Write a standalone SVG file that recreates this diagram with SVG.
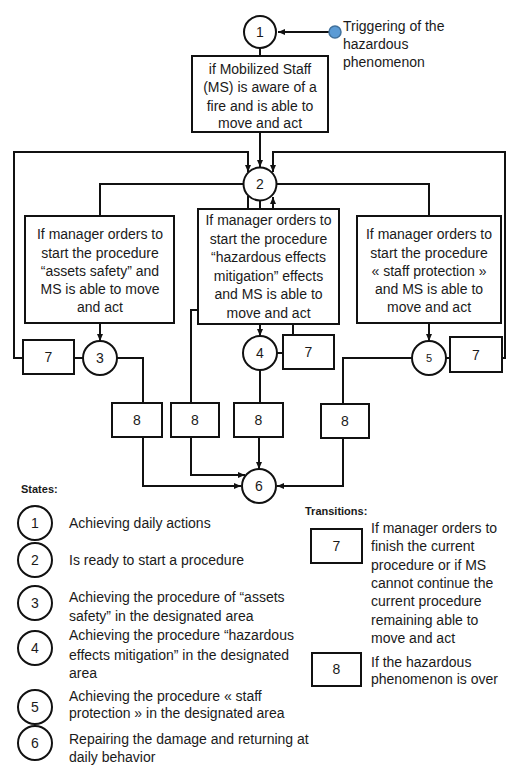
<svg xmlns="http://www.w3.org/2000/svg" width="508" height="765" viewBox="0 0 508 765">
<style>
text{font-family:"Liberation Sans",Arial,sans-serif;font-size:14px;fill:#1a1a1a}
.c{text-anchor:middle}
.b{font-weight:bold;font-size:11px}
.s{fill:#fff;stroke:#111;stroke-width:2}
.w{fill:none;stroke:#111;stroke-width:2}
</style>
<defs>
<marker id="a" markerWidth="8" markerHeight="8" refX="7" refY="4" orient="auto" markerUnits="userSpaceOnUse">
<path d="M0,1 L7,4 L0,7 Z" fill="#111"/>
</marker>
</defs>
<g id="connectors" class="w">
<path d="M329,32 H278" marker-end="url(#a)"/>
<path d="M260,48 V56"/>
<path d="M260,132 V167" marker-end="url(#a)"/>
<path d="M23,358 H14 V152 H248 V172" marker-end="url(#a)"/>
<path d="M502,358 H505 V152 H273 V172" marker-end="url(#a)"/>
<path d="M244,184 H100 V216"/>
<path d="M276,184 H429 V216"/>
<path d="M100,323 V341" marker-end="url(#a)"/>
<path d="M83,358 H74"/>
<path d="M117,358 H143 V403"/>
<path d="M143,437 V486 H241" marker-end="url(#a)"/>
<path d="M248,196 V209"/>
<path d="M198,310 H191 V403"/>
<path d="M191,437 V475 H245" marker-end="url(#a)"/>
<path d="M260,200 V209"/>
<path d="M260,324 V336" marker-end="url(#a)"/>
<path d="M277,353 H283"/>
<path d="M293,335 V324"/>
<path d="M273,209 V197" marker-end="url(#a)"/>
<path d="M260,370 V403"/>
<path d="M259,437 V469" marker-end="url(#a)"/>
<path d="M429,323 V341" marker-end="url(#a)"/>
<path d="M446,358 H450"/>
<path d="M412,358 H343 V404"/>
<path d="M343,438 V486 H277" marker-end="url(#a)"/>
</g>
<g id="trigger">
<circle cx="335" cy="32" r="6" fill="#5b9bd5" stroke="#41719c" stroke-width="1.5"/>
<text x="343" y="31">Triggering of the</text>
<text x="343" y="49">hazardous</text>
<text x="343" y="67">phenomenon</text>
</g>
<g id="s1"><circle class="s" cx="260" cy="32" r="16"/><text class="c" x="260" y="37">1</text></g>
<g id="t1"><rect class="s" x="192" y="56" width="136" height="76"/>
<text class="c" x="260" y="74">if Mobilized Staff</text>
<text class="c" x="260" y="92">(MS) is aware of a</text>
<text class="c" x="260" y="111">fire and is able to</text>
<text class="c" x="260" y="128">move and act</text></g>
<g id="s2"><circle class="s" cx="260" cy="184" r="16.5"/><text class="c" x="260" y="189">2</text></g>
<g id="tA"><rect class="s" x="25" y="216" width="149" height="107"/>
<text class="c" x="100" y="239">If manager orders to</text>
<text class="c" x="100" y="258">start the procedure</text>
<text class="c" x="100" y="276">“assets safety” and</text>
<text class="c" x="100" y="294">MS is able to move</text>
<text class="c" x="100" y="312">and act</text></g>
<g id="tB"><rect class="s" x="198" y="209" width="141" height="115"/>
<text class="c" x="268.5" y="225">If manager orders to</text>
<text class="c" x="268.5" y="243.6">start the procedure</text>
<text class="c" x="268.5" y="262.2">“hazardous effects</text>
<text class="c" x="268.5" y="280.8">mitigation” effects</text>
<text class="c" x="268.5" y="299.4">and MS is able to</text>
<text class="c" x="268.5" y="318">move and act</text></g>
<g id="tC"><rect class="s" x="357" y="216" width="144" height="107"/>
<text class="c" x="429" y="239">If manager orders to</text>
<text class="c" x="429" y="258">start the procedure</text>
<text class="c" x="429" y="276">« staff protection »</text>
<text class="c" x="429" y="294">and MS is able to</text>
<text class="c" x="429" y="312">move and act</text></g>
<g id="s3"><circle class="s" cx="100" cy="358" r="17"/><text class="c" x="100" y="363">3</text></g>
<g id="s4"><circle class="s" cx="260" cy="353" r="17"/><text class="c" x="260" y="358">4</text></g>
<g id="s5"><circle class="s" cx="429" cy="358" r="17"/><text class="c" x="429" y="362" style="font-size:11px">5</text></g>
<g id="s6"><circle class="s" cx="259" cy="486" r="17"/><text class="c" x="259" y="491">6</text></g>
<g id="t7a"><rect class="s" x="23" y="340" width="51" height="34"/><text class="c" x="48.5" y="362">7</text></g>
<g id="t7b"><rect class="s" x="283" y="335" width="51" height="34"/><text class="c" x="308.5" y="357">7</text></g>
<g id="t7c"><rect class="s" x="450" y="337" width="52" height="35"/><text class="c" x="476" y="360">7</text></g>
<g id="t8a"><rect class="s" x="112" y="403" width="50" height="34"/><text class="c" x="137" y="425">8</text></g>
<g id="t8b"><rect class="s" x="171" y="403" width="48" height="34"/><text class="c" x="195" y="425">8</text></g>
<g id="t8c"><rect class="s" x="234" y="403" width="49" height="34"/><text class="c" x="258.5" y="425">8</text></g>
<g id="t8d"><rect class="s" x="321" y="404" width="48" height="34"/><text class="c" x="345" y="426">8</text></g>
<g id="legend-states">
<text class="b" x="21" y="493">States:</text>
<circle class="s" cx="35" cy="523" r="17"/><text class="c" x="35" y="528">1</text>
<text x="69" y="528">Achieving daily actions</text>
<circle class="s" cx="35" cy="560" r="17"/><text class="c" x="35" y="565">2</text>
<text x="69" y="565">Is ready to start a procedure</text>
<circle class="s" cx="35" cy="603" r="17"/><text class="c" x="35" y="608">3</text>
<text x="69" y="602">Achieving the procedure of “assets</text>
<text x="69" y="621">safety” in the designated area</text>
<circle class="s" cx="35" cy="648" r="17"/><text class="c" x="35" y="653">4</text>
<text x="69" y="640">Achieving the procedure “hazardous</text>
<text x="69" y="660">effects mitigation” in the designated</text>
<text x="69" y="678">area</text>
<circle class="s" cx="35" cy="707" r="17"/><text class="c" x="35" y="712">5</text>
<text x="69" y="701">Achieving the procedure « staff</text>
<text x="69" y="718">protection » in the designated area</text>
<circle class="s" cx="35" cy="743" r="17"/><text class="c" x="35" y="748">6</text>
<text x="69" y="744">Repairing the damage and returning at</text>
<text x="69" y="762">daily behavior</text>
</g>
<g id="legend-transitions">
<text class="b" x="305" y="515">Transitions:</text>
<rect class="s" x="311" y="529" width="51" height="34"/><text class="c" x="336.5" y="551">7</text>
<text x="371" y="533">If manager orders to</text>
<text x="371" y="551.3">finish the current</text>
<text x="371" y="569.6">procedure  or if MS</text>
<text x="371" y="587.9">cannot continue the</text>
<text x="371" y="606.2">current procedure</text>
<text x="371" y="624.5">remaining able to</text>
<text x="371" y="642.8">move and act</text>
<rect class="s" x="312" y="653" width="49" height="33"/><text class="c" x="336.5" y="674">8</text>
<text x="371" y="667">If the hazardous</text>
<text x="371" y="684">phenomenon is over</text>
</g>
</svg>
